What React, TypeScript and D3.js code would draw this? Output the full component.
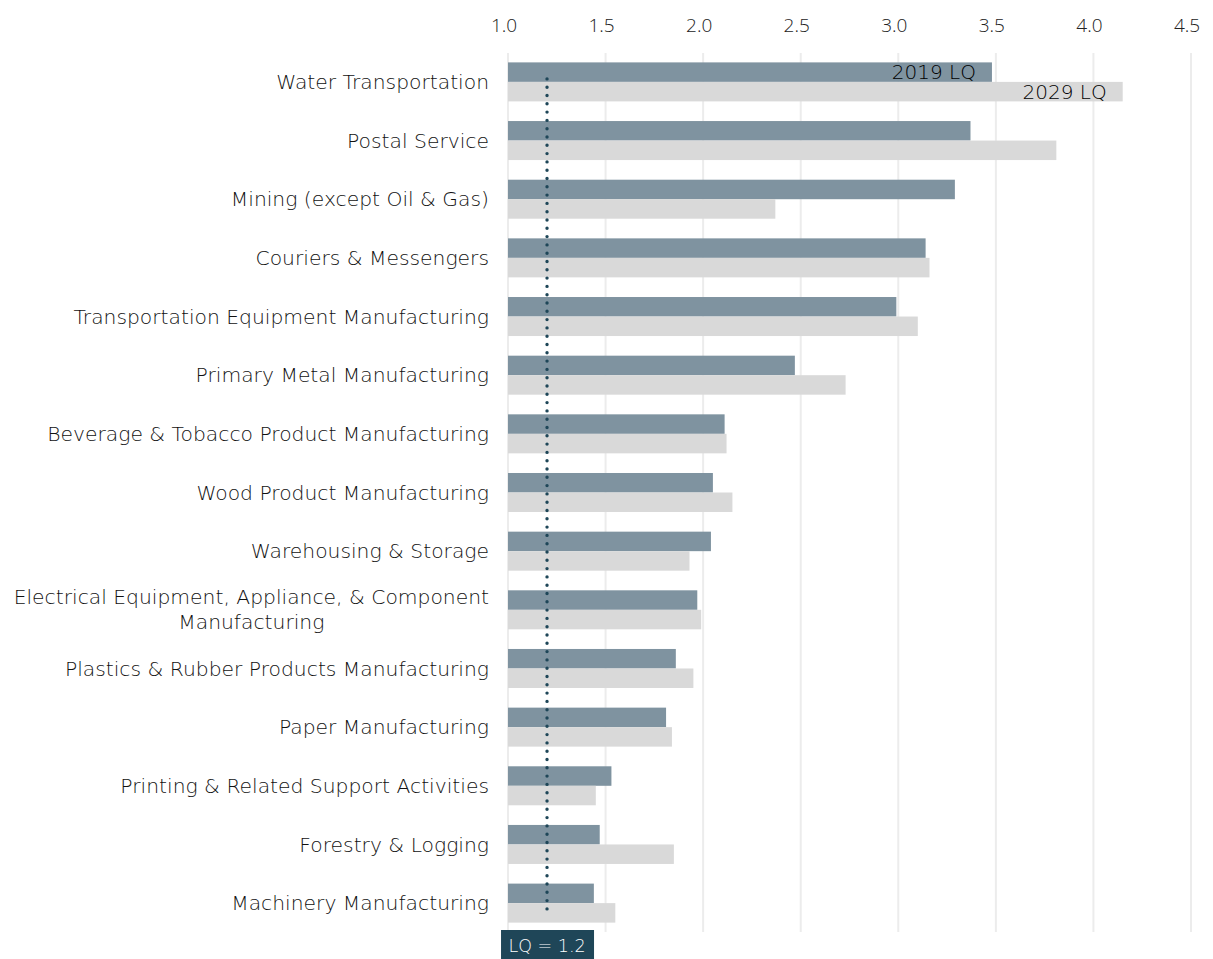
import React, { useEffect, useRef } from "react";
import * as d3 from "d3";

const categories = [
  "Water Transportation",
  "Postal Service",
  "Mining (except Oil & Gas)",
  "Couriers & Messengers",
  "Transportation Equipment Manufacturing",
  "Primary Metal Manufacturing",
  "Beverage & Tobacco Product Manufacturing",
  "Wood Product Manufacturing",
  "Warehousing & Storage",
  "Electrical Equipment, Appliance, & Component|Manufacturing",
  "Plastics & Rubber Products Manufacturing",
  "Paper Manufacturing",
  "Printing & Related Support Activities",
  "Forestry & Logging",
  "Machinery Manufacturing",
];

const lq2019 = [3.48, 3.37, 3.29, 3.14, 2.99, 2.47, 2.11, 2.05, 2.04, 1.97, 1.86, 1.81, 1.53, 1.47, 1.44];
const lq2029 = [4.15, 3.81, 2.37, 3.16, 3.10, 2.73, 2.12, 2.15, 1.93, 1.99, 1.95, 1.84, 1.45, 1.85, 1.55];

const years = ["2019", "2029"];
const tickValues = [1.0, 1.5, 2.0, 2.5, 3.0, 3.5, 4.0, 4.5];
const threshold = 1.2;

const W = 1213;
const H = 959;
const FONT = "'Open Sans', Lato, sans-serif";
const LABEL_FONT = "'DejaVu Sans', 'Open Sans', sans-serif";

export default function App() {
  const ref = useRef<SVGSVGElement | null>(null);

  useEffect(() => {
    const svg = d3.select(ref.current);
    svg.selectAll("*").remove();

    const x = d3.scaleLinear().domain([1, 4.5]).range([508, 1191]);
    const y = d3
      .scaleBand<string>()
      .domain(categories)
      .range([53, 932])
      .paddingInner(0.335)
      .paddingOuter(0.16);
    const yInner = d3.scaleBand<string>().domain(years).range([0, y.bandwidth()]);
    const colors: Record<string, string> = { "2019": "#7f93a0", "2029": "#d9d9d9" };

    const txt = (sel: any, size: number, fill: string, family = FONT, weight = 300) =>
      sel
        .attr("font-family", family)
        .attr("font-weight", weight)
        .attr("font-size", size)
        .attr("fill", fill);

    // gridlines
    svg
      .append("g")
      .selectAll("line")
      .data(tickValues)
      .join("line")
      .attr("x1", (d) => x(d))
      .attr("x2", (d) => x(d))
      .attr("y1", 53)
      .attr("y2", 932)
      .attr("stroke", "#ececec")
      .attr("stroke-width", 2);

    // tick labels
    txt(
      svg
        .append("g")
        .selectAll("text")
        .data(tickValues)
        .join("text")
        .attr("x", (d) => x(d) - 4)
        .attr("y", 25)
        .attr("dy", "0.35em")
        .attr("text-anchor", "middle"),
      19,
      "#222"
    ).text((d: number) => d3.format(".1f")(d));

    // bars
    const rows = categories.map((c, i) => ({ c, v: [lq2019[i], lq2029[i]] }));
    const g = svg
      .append("g")
      .selectAll("g")
      .data(rows)
      .join("g")
      .attr("transform", (d) => `translate(0,${y(d.c)})`);

    g.selectAll("rect")
      .data((d) => years.map((yr, j) => ({ yr, v: d.v[j] })))
      .join("rect")
      .attr("x", x(1))
      .attr("y", (d) => yInner(d.yr)!)
      .attr("width", (d) => x(d.v) - x(1))
      .attr("height", yInner.bandwidth())
      .attr("fill", (d) => colors[d.yr]);

    // category labels
    const labels = svg.append("g");
    const LS = 20.3;
    const LFILL = "#111";
    rows.forEach((r) => {
      const lines = r.c.split("|");
      const cy = y(r.c)! + y.bandwidth() / 2;
      if (lines.length === 1) {
        txt(
          labels
            .append("text")
            .attr("x", 489)
            .attr("y", cy)
            .attr("dy", "0.35em")
            .attr("text-anchor", "end"),
          LS,
          LFILL,
          LABEL_FONT,
          200
        ).text(lines[0]);
      } else {
        const t1 = txt(
          labels
            .append("text")
            .attr("x", 489)
            .attr("y", cy - 12.5)
            .attr("dy", "0.35em")
            .attr("text-anchor", "end"),
          LS,
          LFILL,
          LABEL_FONT,
          200
        ).text(lines[0]);
        const w1 = (t1.node() as SVGTextElement).getComputedTextLength();
        txt(
          labels
            .append("text")
            .attr("x", 489 - w1 / 2)
            .attr("y", cy + 12.5)
            .attr("dy", "0.35em")
            .attr("text-anchor", "middle"),
          LS,
          LFILL,
          LABEL_FONT,
          200
        ).text(lines[1]);
      }
    });

    // in-bar legend labels on first row
    const first = rows[0];
    years.forEach((yr, j) => {
      txt(
        svg
          .append("text")
          .attr("x", x(first.v[j]) - 16)
          .attr("y", y(first.c)! + yInner(yr)! + yInner.bandwidth() / 2)
          .attr("dy", "0.35em")
          .attr("text-anchor", "end"),
        20,
        "#000",
        LABEL_FONT,
        200
      ).text(`${yr} LQ`);
    });

    // threshold dotted line
    const yTop = y(categories[0])! + yInner.bandwidth() - 5;
    const yBot = y(categories[categories.length - 1])! + y.bandwidth() - 10;
    svg
      .append("line")
      .attr("x1", x(threshold))
      .attr("x2", x(threshold))
      .attr("y1", yTop + 2)
      .attr("y2", yBot)
      .attr("stroke", "#1e4658")
      .attr("stroke-width", 3.4)
      .attr("stroke-linecap", "round")
      .attr("stroke-dasharray", "0 8.3");

    // threshold label
    const bx = x(threshold);
    svg
      .append("rect")
      .attr("x", bx - 46)
      .attr("y", 930)
      .attr("width", 93)
      .attr("height", 32)
      .attr("fill", "#1f4658");
    txt(
      svg
        .append("text")
        .attr("x", bx)
        .attr("y", 946)
        .attr("dy", "0.35em")
        .attr("text-anchor", "middle"),
      17.5,
      "#fff",
      LABEL_FONT,
      200
    ).text(`LQ = ${threshold}`);
  }, []);

  return (
    <svg
      ref={ref}
      width={W}
      height={H}
      style={{ position: "absolute", left: 0, top: 0, background: "#fff" }}
    />
  );
}
